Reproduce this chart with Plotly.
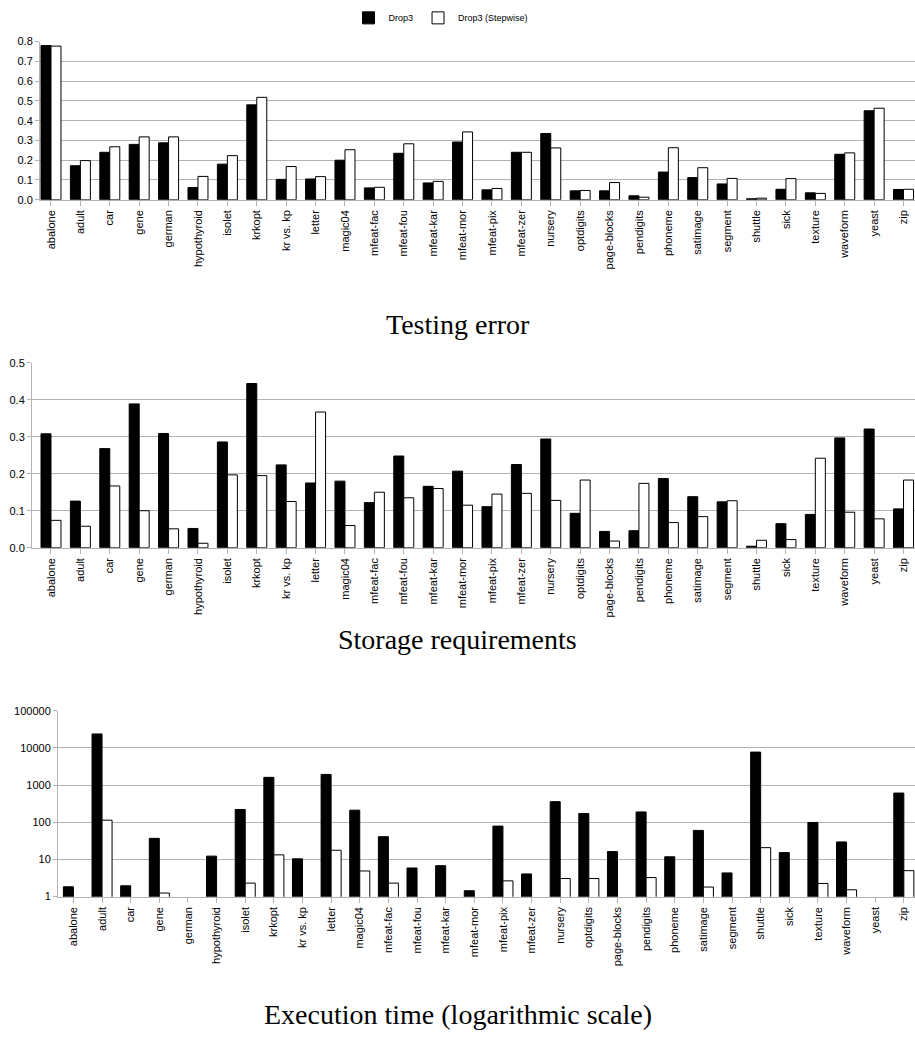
import plotly.graph_objects as go

datasets = ["abalone", "adult", "car", "gene", "german", "hypothyroid", "isolet", "krkopt",
            "kr vs. kp", "letter", "magic04", "mfeat-fac", "mfeat-fou", "mfeat-kar", "mfeat-mor",
            "mfeat-pix", "mfeat-zer", "nursery", "optdigits", "page-blocks", "pendigits", "phoneme",
            "satimage", "segment", "shuttle", "sick", "texture", "waveform", "yeast", "zip"]

err_drop3 = [0.78, 0.172, 0.24, 0.28, 0.288, 0.062, 0.18, 0.48, 0.103, 0.105, 0.2, 0.06, 0.235, 0.085,
             0.292, 0.05, 0.24, 0.335, 0.045, 0.045, 0.02, 0.14, 0.112, 0.08, 0.005, 0.053, 0.035,
             0.23, 0.45, 0.052]
err_step = [0.777, 0.198, 0.268, 0.318, 0.318, 0.118, 0.223, 0.518, 0.168, 0.117, 0.253, 0.063, 0.283,
            0.093, 0.343, 0.057, 0.24, 0.262, 0.047, 0.087, 0.013, 0.263, 0.162, 0.108, 0.008, 0.107,
            0.032, 0.237, 0.463, 0.053]

sto_drop3 = [0.308, 0.126, 0.268, 0.389, 0.309, 0.052, 0.286, 0.444, 0.224, 0.175, 0.18, 0.122, 0.248,
             0.166, 0.207, 0.111, 0.225, 0.294, 0.093, 0.044, 0.046, 0.187, 0.138, 0.124, 0.004, 0.065,
             0.09, 0.297, 0.321, 0.105]
sto_step = [0.074, 0.058, 0.167, 0.1, 0.051, 0.012, 0.197, 0.195, 0.125, 0.367, 0.06, 0.15, 0.135, 0.16,
            0.115, 0.145, 0.147, 0.128, 0.183, 0.018, 0.174, 0.068, 0.084, 0.127, 0.02, 0.022, 0.242,
            0.096, 0.078, 0.183]

time_drop3 = [1.84, 23800, 1.96, 37, None, 12.3, 221, 1620, 10.4, 1940, 212, 41, 5.9, 6.8, 1.44, 79,
              4.08, 360, 172, 16.3, 190, 11.8, 60.5, 4.34, 7740, 15.3, 99, 29.6, None, 612]
time_step = [None, 114, None, 1.25, None, None, 2.31, 13.3, None, 17.7, 4.9, 2.31, None, None, None, 2.66,
             None, 3.07, 3.07, None, 3.26, None, 1.81, None, 20.8, None, 2.26, 1.53, None, 5.0]

series_names = ["Drop3", "Drop3 (Stepwise)"]
panel_titles = ["Testing error", "Storage requirements", "Execution time (logarithmic scale)"]

W, H = 915, 1043
GRID = "#b3b3b3"
FONT = "Liberation Sans"

fig = go.Figure()

panels = [
    (err_drop3, err_step, "x", "y", 0.34),
    (sto_drop3, sto_step, "x2", "y2", 0.34),
    (time_drop3, time_step, "x3", "y3", 0.35),
]
for i, (d1, d2, xa, ya, bw) in enumerate(panels):
    fig.add_trace(go.Bar(x=datasets, y=d1, name=series_names[0], xaxis=xa, yaxis=ya,
                         width=bw, offset=-bw, showlegend=(i == 0), legendgroup="a",
                         marker=dict(color="black", line=dict(color="black", width=1))))
    fig.add_trace(go.Bar(x=datasets, y=d2, name=series_names[1], xaxis=xa, yaxis=ya,
                         width=bw, offset=0, showlegend=(i == 0), legendgroup="b",
                         marker=dict(color="white", line=dict(color="black", width=1))))


def px_to_y(p):
    return 1 - p / H


def xax(left_px, rng, anchor):
    return dict(domain=[left_px / W, 1], range=rng, anchor=anchor, type="category",
                tickangle=-90, showgrid=False, showline=True, linecolor=GRID, linewidth=1,
                ticks="outside", ticklen=5, tickcolor=GRID,
                tickfont=dict(family=FONT, size=11, color="black"), fixedrange=True)


def yax(top_px, bot_px, anchor, **kw):
    d = dict(domain=[px_to_y(bot_px), px_to_y(top_px)], anchor=anchor, showgrid=True,
             gridcolor=GRID, gridwidth=1, showline=True, linecolor=GRID, linewidth=1,
             ticks="outside", ticklen=4, tickcolor=GRID, zeroline=False,
             tickfont=dict(family=FONT, size=11, color="black"), fixedrange=True)
    d.update(kw)
    return d


fig.update_layout(
    width=W, height=H,
    margin=dict(l=0, r=0, t=0, b=0),
    paper_bgcolor="white", plot_bgcolor="white",
    barmode="overlay",
    font=dict(family=FONT, size=11, color="black"),
    legend=dict(orientation="h", x=0.482, y=px_to_y(12), xanchor="center", yanchor="middle",
                font=dict(family=FONT, size=9, color="black"), itemwidth=30,
                bgcolor="rgba(0,0,0,0)", traceorder="normal"),
    xaxis=xax(40, [-0.374, 29.39], "y"),
    yaxis=yax(36, 196, "x", range=[0, 0.8], dtick=0.1, tickformat=".1f"),
    xaxis2=xax(32, [-0.646, 29.39], "y2"),
    yaxis2=yax(361, 548, "x2", range=[0, 0.5], dtick=0.1, tickformat=".1f"),
    xaxis3=xax(58, [-0.538, 29.39], "y3"),
    yaxis3=yax(713, 901, "x3", type="log", range=[0, 5], dtick=1,
               tickvals=[1, 10, 100, 1000, 10000, 100000],
               ticktext=["1", "10", "100", "1000", "10000", "100000"]),
)

title_pos = [(458, 322), (458, 641), (458, 1020)]
for t, (cx, cy) in zip(panel_titles, title_pos):
    fig.add_annotation(text=t, x=cx / W, y=px_to_y(cy), xref="paper", yref="paper",
                       xanchor="center", yanchor="middle", showarrow=False,
                       font=dict(family="Liberation Serif", size=28, color="black"))

fig.write_html("out.html")
